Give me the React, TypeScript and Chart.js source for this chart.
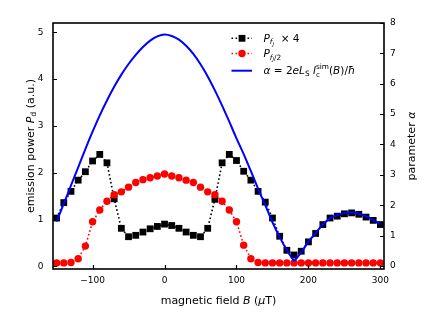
import React, { useEffect, useRef } from 'react';
import { Chart, registerables } from 'chart.js';

Chart.register(...registerables);

// ---------- data ----------
const fieldB = [
  -150, -140, -130, -120, -110, -100, -90, -80, -70, -60, -50, -40, -30, -20, -10,
  0, 10, 20, 30, 40, 50, 60, 70, 80, 90, 100, 110, 120, 130, 140, 150, 160, 170,
  180, 190, 200, 210, 220, 230, 240, 250, 260, 270, 280, 290, 300,
];
const powerFJx4 = [
  1.03, 1.36, 1.6, 1.84, 2.02, 2.25, 2.39, 2.21, 1.44, 0.81, 0.63, 0.66, 0.73, 0.8, 0.85,
  0.9, 0.87, 0.81, 0.73, 0.66, 0.63, 0.81, 1.43, 2.21, 2.39, 2.26, 2.03, 1.84, 1.6, 1.37, 1.03, 0.64, 0.34,
  0.24, 0.32, 0.52, 0.7, 0.89, 1.03, 1.07, 1.12, 1.14, 1.11, 1.05, 0.98, 0.89,
];
const powerFJhalf = [
  0.07, 0.07, 0.08, 0.16, 0.43, 0.95, 1.2, 1.39, 1.53, 1.59, 1.69, 1.79, 1.85, 1.89, 1.93,
  1.97, 1.93, 1.89, 1.84, 1.79, 1.69, 1.59, 1.53, 1.39, 1.2, 0.95, 0.45, 0.16, 0.08, 0.07, 0.07, 0.07, 0.07,
  0.07, 0.07, 0.07, 0.07, 0.07, 0.07, 0.07, 0.07, 0.07, 0.07, 0.07, 0.07, 0.07,
];
const alphaSim = [
  1.46, 2.05, 2.65, 3.25, 3.85, 4.42, 4.96, 5.45, 5.9, 6.3, 6.65, 6.95, 7.21, 7.42, 7.56,
  7.62, 7.57, 7.45, 7.25, 6.98, 6.64, 6.24, 5.78, 5.28, 4.75, 4.2, 3.68, 3.12, 2.55, 2.0, 1.44, 0.95, 0.52,
  0.16, 0.45, 0.8, 1.08, 1.37, 1.57, 1.67, 1.74, 1.76, 1.72, 1.63, 1.51, 1.37,
];
// the simulated curve has a cusp (alpha -> 0) at this field value
const alphaCuspB = 180;
const xTicks = [-100, 0, 100, 200, 300];
const powerTicks = [0, 1, 2, 3, 4, 5];
const alphaTicks = [0, 1, 2, 3, 4, 5, 6, 7, 8];

// ---------- rich text helpers ----------
const FONT = '"DejaVu Sans", sans-serif';
type Seg = { t?: string; it?: boolean; s?: number; dy?: number; stack?: [string, string] };

function segFont(seg: Seg, size: number) {
  return `${seg.it ? 'italic ' : ''}${(seg.s || 1) * size}px ${FONT}`;
}
function measureRich(ctx: CanvasRenderingContext2D, segs: Seg[], size: number) {
  let w = 0;
  for (const seg of segs) {
    if (seg.stack) {
      ctx.font = `${0.7 * size}px ${FONT}`;
      w += Math.max(ctx.measureText(seg.stack[0]).width, ctx.measureText(seg.stack[1]).width);
    } else {
      ctx.font = segFont(seg, size);
      w += ctx.measureText(seg.t || '').width;
    }
  }
  return w;
}
function drawRich(ctx: CanvasRenderingContext2D, segs: Seg[], x: number, y: number, size: number) {
  let cx = x;
  ctx.textBaseline = 'alphabetic';
  ctx.textAlign = 'left';
  for (const seg of segs) {
    if (seg.stack) {
      ctx.font = `${0.7 * size}px ${FONT}`;
      const a = ctx.measureText(seg.stack[0]).width;
      const b = ctx.measureText(seg.stack[1]).width;
      ctx.fillText(seg.stack[0], cx, y - 0.45 * size);
      ctx.fillText(seg.stack[1], cx, y + 0.25 * size);
      cx += Math.max(a, b);
    } else {
      ctx.font = segFont(seg, size);
      ctx.fillText(seg.t || '', cx, y + (seg.dy || 0) * size);
      cx += ctx.measureText(seg.t || '').width;
    }
  }
}

const xTitle: Seg[] = [{ t: 'magnetic field ' }, { t: 'B', it: true }, { t: ' (' }, { t: 'μ', it: true }, { t: 'T)' }];
const yTitle: Seg[] = [
  { t: 'emission power ' },
  { t: 'P', it: true },
  { t: 'd', s: 0.7, dy: 0.22 },
  { t: ' (a.u.)' },
];
const y2Title: Seg[] = [{ t: 'parameter ' }, { t: 'α', it: true }];
const legendRows: { segs: Seg[]; kind: string }[] = [
  {
    kind: 'sq',
    segs: [
      { t: 'P', it: true },
      { t: 'f', it: true, s: 0.7, dy: 0.25 },
      { t: 'J', it: true, s: 0.5, dy: 0.4 },
      { t: '  × 4' },
    ],
  },
  {
    kind: 'ci',
    segs: [
      { t: 'P', it: true },
      { t: 'f', it: true, s: 0.7, dy: 0.25 },
      { t: 'J', it: true, s: 0.5, dy: 0.4 },
      { t: '/2', s: 0.7, dy: 0.25 },
    ],
  },
  {
    kind: 'ln',
    segs: [
      { t: 'α', it: true },
      { t: ' = 2' },
      { t: 'eL', it: true },
      { t: 'S', s: 0.7, dy: 0.2 },
      { t: ' ' },
      { t: 'I', it: true },
      { stack: ['sim', 'c'] },
      { t: '(' },
      { t: 'B', it: true },
      { t: ')/' },
      { t: 'ħ', it: true },
    ],
  },
];

const decorPlugin = {
  id: 'decor',
  afterDraw(chart: any) {
    const ctx: CanvasRenderingContext2D = chart.ctx;
    const { left, right, top, bottom } = chart.chartArea;
    const xs = chart.scales.x;
    const ys = chart.scales.y;
    const ys2 = chart.scales.y2;
    ctx.save();
    ctx.strokeStyle = '#000';
    ctx.fillStyle = '#000';
    ctx.lineWidth = 1.6;
    ctx.strokeRect(left, top, right - left, bottom - top);
    ctx.lineWidth = 1.2;
    ctx.beginPath();
    for (const v of xTicks) {
      const p = Math.round(xs.getPixelForValue(v)) + 0.5;
      ctx.moveTo(p, bottom);
      ctx.lineTo(p, bottom - 4);
    }
    for (const v of powerTicks) {
      const p = Math.round(ys.getPixelForValue(v)) + 0.5;
      ctx.moveTo(left, p);
      ctx.lineTo(left + 4, p);
    }
    for (const v of alphaTicks) {
      const p = Math.round(ys2.getPixelForValue(v)) + 0.5;
      ctx.moveTo(right, p);
      ctx.lineTo(right - 4, p);
    }
    ctx.stroke();

    const ts = 11;
    const wx = measureRich(ctx, xTitle, ts);
    drawRich(ctx, xTitle, (left + right) / 2 - wx / 2, 304, ts);
    const cy = (top + bottom) / 2;
    ctx.save();
    ctx.translate(33.5, cy);
    ctx.rotate(-Math.PI / 2);
    const wy = measureRich(ctx, yTitle, ts);
    drawRich(ctx, yTitle, -wy / 2, 0, ts);
    ctx.restore();
    ctx.save();
    ctx.translate(414.5, cy);
    ctx.rotate(-Math.PI / 2);
    const wy2 = measureRich(ctx, y2Title, ts);
    drawRich(ctx, y2Title, -wy2 / 2, 0, ts);
    ctx.restore();

    const rowY = [38.3, 53.5, 70.7];
    const baseY = [41.8, 57.2, 74.2];
    legendRows.forEach((row, i) => {
      const y = rowY[i];
      ctx.save();
      if (row.kind === 'ln') {
        ctx.strokeStyle = '#0000ff';
        ctx.lineWidth = 2;
        ctx.setLineDash([]);
      } else {
        ctx.strokeStyle = row.kind === 'sq' ? '#000' : '#ff0000';
        ctx.lineWidth = 1.6;
        ctx.setLineDash([1.6, 2.4]);
      }
      ctx.beginPath();
      ctx.moveTo(231.5, y);
      ctx.lineTo(252, y);
      ctx.stroke();
      ctx.setLineDash([]);
      if (row.kind === 'sq') {
        ctx.fillStyle = '#000';
        ctx.fillRect(242 - 3.4, y - 3.4, 6.8, 6.8);
      } else if (row.kind === 'ci') {
        ctx.fillStyle = '#ff0000';
        ctx.beginPath();
        ctx.arc(242, y, 3.7, 0, Math.PI * 2);
        ctx.fill();
      }
      ctx.restore();
      ctx.fillStyle = '#000';
      drawRich(ctx, row.segs, 263.5, baseY[i], 10.5);
    });
    ctx.restore();
  },
};

const fmt = (v: number) => (v < 0 ? '−' + Math.abs(v) : String(v));

export default function App() {
  const ref = useRef<HTMLCanvasElement | null>(null);
  useEffect(() => {
    if (!ref.current) return;
    const pts = (ys: number[]) => fieldB.map((b, i) => ({ x: b, y: ys[i] }));
    const alphaPts = pts(alphaSim);
    const blueStyle = {
      yAxisID: 'y2',
      borderColor: '#0000ff',
      backgroundColor: '#0000ff',
      borderWidth: 2,
      pointRadius: 0,
      cubicInterpolationMode: 'monotone',
      order: 1,
    };
    const chart = new Chart(ref.current, {
      type: 'line',
      data: {
        datasets: [
          {
            label: 'P_fJ x 4',
            data: pts(powerFJx4),
            yAxisID: 'y',
            borderColor: '#000',
            backgroundColor: '#000',
            borderWidth: 1.6,
            borderDash: [1.6, 2.4],
            pointStyle: 'rect',
            pointRadius: 4.8,
            pointBorderWidth: 0,
            pointBackgroundColor: '#000',
            tension: 0,
            order: 3,
          },
          {
            label: 'P_fJ/2',
            data: pts(powerFJhalf),
            yAxisID: 'y',
            borderColor: '#ff0000',
            backgroundColor: '#ff0000',
            borderWidth: 1.6,
            borderDash: [1.6, 2.4],
            pointStyle: 'circle',
            pointRadius: 3.7,
            pointBorderWidth: 0,
            pointBackgroundColor: '#ff0000',
            tension: 0,
            order: 2,
          },
          {
            label: 'alpha (B <= cusp)',
            data: alphaPts.filter((p) => p.x <= alphaCuspB),
            ...blueStyle,
          },
          {
            label: 'alpha (B >= cusp)',
            data: alphaPts.filter((p) => p.x >= alphaCuspB),
            ...blueStyle,
          },
        ],
      },
      options: {
        animation: false,
        responsive: false,
        devicePixelRatio: 1,
        layout: { padding: { top: 23, left: 0, right: 0, bottom: 0 } },
        plugins: { legend: { display: false }, tooltip: { enabled: false } },
        scales: {
          x: {
            type: 'linear',
            min: -155,
            max: 305,
            grid: { display: false, drawTicks: false },
            border: { display: false },
            afterBuildTicks: (s: any) => {
              s.ticks = xTicks.map((v) => ({ value: v }));
            },
            afterFit: (s: any) => {
              s.height = 58;
            },
            ticks: {
              padding: 6,
              maxRotation: 0,
              color: '#000',
              font: { family: FONT, size: 9 },
              callback: (v: any) => fmt(Number(v)),
            },
          },
          y: {
            type: 'linear',
            position: 'left',
            min: -0.06,
            max: 5.2,
            grid: { display: false, drawTicks: false },
            border: { display: false },
            afterBuildTicks: (s: any) => {
              s.ticks = powerTicks.map((v) => ({ value: v }));
            },
            afterFit: (s: any) => {
              s.width = 53;
            },
            ticks: {
              padding: 9.5,
              color: '#000',
              font: { family: FONT, size: 9 },
              callback: (v: any) => fmt(Number(v)),
            },
          },
          y2: {
            type: 'linear',
            position: 'right',
            min: -0.1,
            max: 8,
            grid: { display: false, drawTicks: false },
            border: { display: false },
            afterBuildTicks: (s: any) => {
              s.ticks = alphaTicks.map((v) => ({ value: v }));
            },
            afterFit: (s: any) => {
              s.width = 51;
            },
            ticks: {
              padding: 6,
              color: '#000',
              font: { family: FONT, size: 9 },
              callback: (v: any) => fmt(Number(v)),
            },
          },
        },
      },
      plugins: [decorPlugin],
    } as any);
    return () => chart.destroy();
  }, []);
  return (
    <div style={{ position: 'fixed', left: 0, top: 0, width: 435, height: 327, background: '#fff' }}>
      <canvas ref={ref} width={435} height={327} style={{ width: 435, height: 327, display: 'block' }} />
    </div>
  );
}
